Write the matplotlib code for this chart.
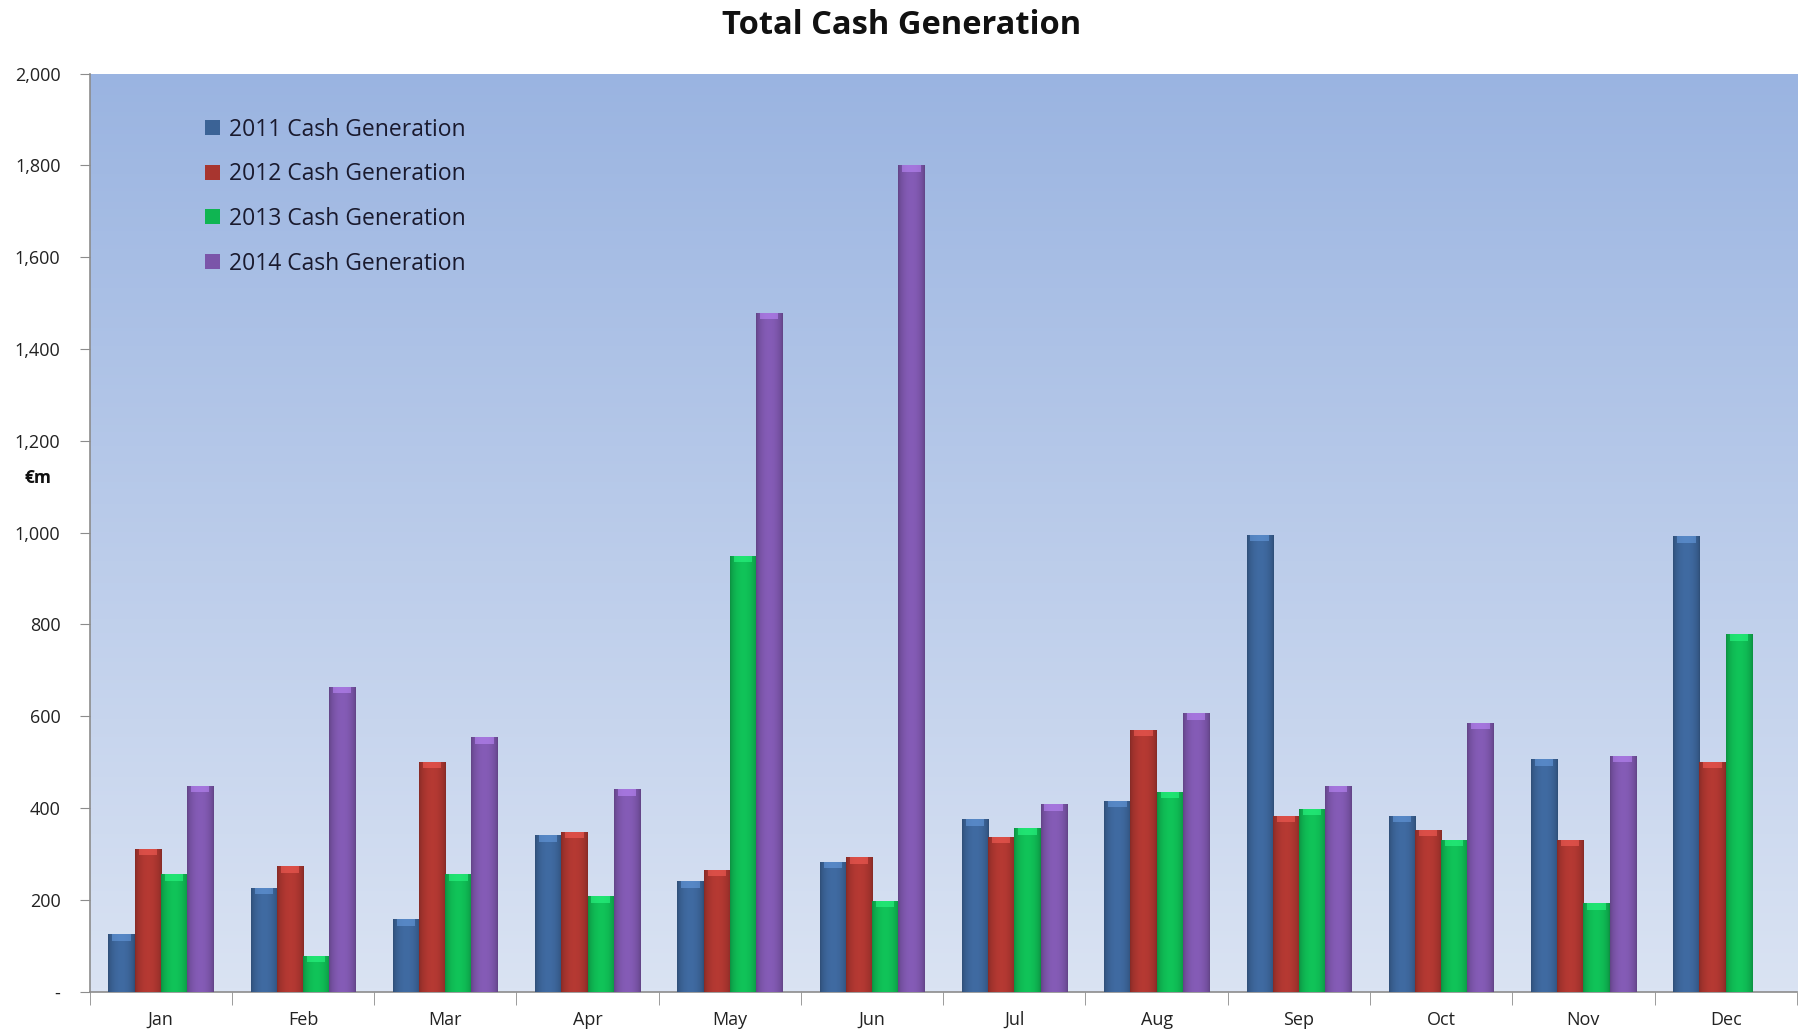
import numpy as np
import matplotlib
matplotlib.use("Agg")
import matplotlib.pyplot as plt
from matplotlib.colors import to_rgb
from matplotlib.ticker import FuncFormatter, FixedLocator

months = ["Jan", "Feb", "Mar", "Apr", "May", "Jun", "Jul", "Aug", "Sep", "Oct", "Nov", "Dec"]
series_names = ["2011 Cash Generation", "2012 Cash Generation",
                "2013 Cash Generation", "2014 Cash Generation"]
cash_2011 = [125, 226, 158, 341, 241, 283, 376, 416, 995, 383, 506, 992]
cash_2012 = [311, 273, 501, 348, 266, 293, 338, 571, 383, 353, 331, 501]
cash_2013 = [256, 78, 256, 208, 950, 198, 356, 436, 398, 331, 193, 779]
cash_2014 = [449, 664, 554, 441, 1479, 1800, 408, 607, 449, 586, 514, 0]
y_ticks = [0, 200, 400, 600, 800, 1000, 1200, 1400, 1600, 1800, 2000]

colors = ["#3b6396", "#a8352f", "#0fb552", "#7b55a9"]
series = [cash_2011, cash_2012, cash_2013, cash_2014]

plt.rcParams['font.family'] = ['Open Sans', 'DejaVu Sans']

fig = plt.figure(figsize=(18.04, 10.32), dpi=100)
ax = fig.add_axes([0.0497, 0.039, 0.9463, 0.8897])

x = np.arange(len(months))
bw = 0.184
ax.set_xlim(-0.5, len(months) - 0.5)
ax.set_ylim(0, 2000)

# background gradient
grad = np.linspace(0, 1, 256).reshape(-1, 1)
top_c = np.array(to_rgb("#9ab4e1"))
bot_c = np.array(to_rgb("#dae3f3"))
bg = top_c[None, None, :] * (1 - grad[:, :, None]) + bot_c[None, None, :] * grad[:, :, None]
ax.imshow(bg, extent=[-0.5, len(months) - 0.5, 0, 2000], aspect='auto', zorder=0,
          origin='upper')

# cylinder-ish shading profile across bar width
prof = np.linspace(-1, 1, 64)
shade = 0.78 + 0.30 * np.cos(prof * np.pi / 2) ** 0.6
for i, (vals, c) in enumerate(zip(series, colors)):
    offs = (i - 1.5) * bw
    bars = ax.bar(x + offs, vals, width=bw, color=c, edgecolor='none',
                  label=series_names[i], zorder=2)
    base = np.array(to_rgb(c))
    rgb = np.clip(base[None, :] * shade[:, None], 0, 1)
    img = rgb[None, :, :]
    for b in bars:
        h = b.get_height()
        if h <= 0:
            continue
        x0 = b.get_x()
        w = b.get_width()
        im = ax.imshow(img, extent=[x0, x0 + w, 0, h], aspect='auto', zorder=3,
                       interpolation='bilinear')
        im.set_clip_path(b)
        cap = min(h, 14)
        ax.fill_between([x0 + w * 0.15, x0 + w * 0.85], h - cap, h,
                        color=np.clip(base * 1.35 + 0.1, 0, 1), alpha=0.55,
                        zorder=4, linewidth=0)

ax.set_xlim(-0.5, len(months) - 0.5)
ax.set_ylim(0, 2000)

for s in ["top", "right"]:
    ax.spines[s].set_visible(False)
for s in ["left", "bottom"]:
    ax.spines[s].set_color("#8c8c8c")
    ax.spines[s].set_linewidth(1.2)

ax.yaxis.set_major_locator(FixedLocator(y_ticks))
ax.yaxis.set_major_formatter(FuncFormatter(lambda v, p: "-" if v == 0 else f"{int(v):,}"))
ax.tick_params(axis='y', direction='out', length=7, color="#8c8c8c", labelsize=13,
               labelcolor="#222222", pad=14)

ax.set_xticks(x)
ax.set_xticklabels(months)
ax.set_xticks(np.arange(-0.5, len(months)), minor=True)
ax.tick_params(axis='x', which='major', length=0, labelsize=13, labelcolor="#222222", pad=14)
ax.tick_params(axis='x', which='minor', direction='out', length=9, color="#8c8c8c")

ax.text(-0.038, 1118 / 2000, "€m", transform=ax.transAxes, fontsize=12.5,
        fontweight='bold', ha='left', va='center', color="#111111")

fig.text(0.5, 0.975, "Total Cash Generation", ha='center', va='center',
         fontsize=23.5, fontweight='bold', color="#111111")

leg = ax.legend(loc='upper left', bbox_to_anchor=(0.062, 0.962), frameon=False,
                fontsize=16.5, handlelength=0.65, handleheight=0.65, handletextpad=0.4,
                labelspacing=0.9, borderaxespad=0)
for t in leg.get_texts():
    t.set_color("#1a1a2e")

fig.savefig("out.png", dpi=100)
